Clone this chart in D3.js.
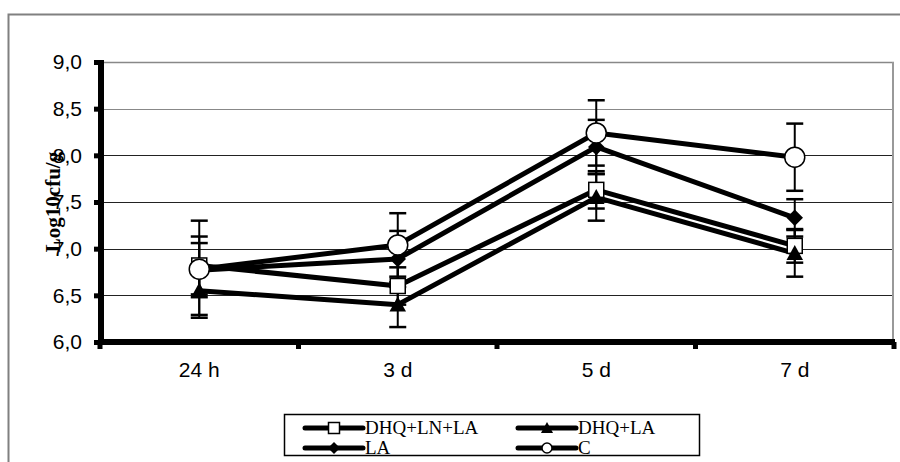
<!DOCTYPE html>
<html>
<head>
<meta charset="utf-8">
<script src="https://cdn.jsdelivr.net/npm/d3@7"></script>
<style>
  body { margin: 0; background: white; }
  svg { display: block; }
</style>
</head>
<body>
<svg id="chart" width="900" height="462"></svg>
<script>
const categories = ["24 h", "3 d", "5 d", "7 d"];
const y_ticks = [6.0, 6.5, 7.0, 7.5, 8.0, 8.5, 9.0];

const dhq_ln_la = [6.82, 6.60, 7.63, 7.03];
const dhq_ln_la_err = [0.31, 0.20, 0.20, 0.18];
const dhq_la = [6.55, 6.40, 7.55, 6.95];
const dhq_la_err = [0.26, 0.24, 0.25, 0.25];
const la = [6.77, 6.89, 8.09, 7.33];
const la_err = [0.29, 0.30, 0.29, 0.20];
const control = [6.78, 7.04, 8.24, 7.98];
const control_err = [0.52, 0.34, 0.35, 0.36];

const series = [
    { "name": "DHQ+LN+LA", "values": dhq_ln_la, "err": dhq_ln_la_err, "marker": "square" },
    { "name": "DHQ+LA", "values": dhq_la, "err": dhq_la_err, "marker": "triangle" },
    { "name": "LA", "values": la, "err": la_err, "marker": "diamond" },
    { "name": "C", "values": control, "err": control_err, "marker": "circle" }
];

const PLOT = { left: 100, right: 894, top: 62, bottom: 342 };
const SANS = "Arial, 'Liberation Sans', sans-serif";
const SERIF = "'Times New Roman', 'Liberation Serif', serif";

var svg = d3.select("svg#chart");

var x = d3.scaleBand().domain(categories).range([PLOT.left, PLOT.right]).padding(0);
var y = d3.scaleLinear().domain([6, 9]).range([PLOT.bottom, PLOT.top]);
var fmt = v => d3.format(".1f")(v).replace(".", ",");

// outer chart frame
svg.append("rect")
    .attr("x", 8.5).attr("y", 14.5)
    .attr("width", 900).attr("height", 460)
    .attr("fill", "white")
    .style("stroke", "#808080")
    .style("stroke-width", 2);

// gridlines
svg.append("g").selectAll("line")
    .data(y_ticks.slice(1))
    .join("line")
    .attr("x1", PLOT.left).attr("x2", PLOT.right)
    .attr("y1", d => Math.round(y(d)) + 0.5).attr("y2", d => Math.round(y(d)) + 0.5)
    .style("stroke", d => d >= 8.5 ? "#888" : "#222")
    .style("stroke-width", d => d == 9 ? 1.5 : 1);

// plot area right border
svg.append("rect")
    .attr("x", PLOT.right - 2).attr("y", PLOT.top)
    .attr("width", 2).attr("height", PLOT.bottom - PLOT.top)
    .attr("fill", "#999");

// y axis: labels from d3 axis, thick line and ticks as rects
var y_axis = svg.append("g")
    .attr("transform", "translate(" + PLOT.left + ",0)")
    .call(d3.axisLeft(y).tickValues(y_ticks).tickFormat(fmt).tickSize(5).tickPadding(13));
y_axis.select(".domain").remove();
y_axis.selectAll(".tick line").remove();
y_axis.selectAll(".tick").append("rect")
    .attr("x", -6).attr("y", -2.5).attr("width", 6).attr("height", 5).attr("fill", "black");
y_axis.selectAll(".tick text")
    .style("font-family", SANS)
    .style("font-size", "21px")
    .attr("fill", "black");
svg.append("rect")
    .attr("x", PLOT.left - 2).attr("y", PLOT.top - 2)
    .attr("width", 6).attr("height", PLOT.bottom - PLOT.top + 4)
    .attr("fill", "black");

// x axis
svg.append("rect")
    .attr("x", PLOT.left - 2).attr("y", PLOT.bottom - 3)
    .attr("width", PLOT.right - PLOT.left + 3).attr("height", 6)
    .attr("fill", "black");

var x_bounds = categories.map(c => x(c)).concat([x.range()[1]]);
svg.append("g").selectAll("rect")
    .data(x_bounds)
    .join("rect")
    .attr("x", d => d - 2.5).attr("y", PLOT.bottom)
    .attr("width", 5).attr("height", 7)
    .attr("fill", "black");

svg.append("g").selectAll("text")
    .data(categories)
    .join("text")
    .attr("x", d => x(d) + x.bandwidth() / 2)
    .attr("y", 377)
    .attr("text-anchor", "middle")
    .style("font-family", SANS)
    .style("font-size", "21px")
    .text(d => d);

// y axis title
svg.append("text")
    .attr("transform", "translate(60,202) rotate(-90)")
    .attr("text-anchor", "middle")
    .style("font-family", SERIF)
    .style("font-weight", "bold")
    .style("font-size", "21px")
    .text("Log10cfu/g");

var cx = i => x(categories[i]) + x.bandwidth() / 2;

function draw_marker(g, type, size) {
    if (type == "square") {
        g.append("rect")
            .attr("x", -size / 2).attr("y", -size / 2)
            .attr("width", size).attr("height", size)
            .attr("fill", "white").style("stroke", "black").style("stroke-width", 1.5);
    } else if (type == "triangle") {
        var h = size;
        g.append("path")
            .attr("d", "M0," + (-h * 0.55) + "L" + (h * 0.55) + "," + (h * 0.45) + "L" + (-h * 0.55) + "," + (h * 0.45) + "Z")
            .attr("fill", "black");
    } else if (type == "diamond") {
        var r = size * 0.55;
        g.append("path")
            .attr("d", "M0," + (-r) + "L" + r + ",0L0," + r + "L" + (-r) + ",0Z")
            .attr("fill", "black");
    } else {
        g.append("circle")
            .attr("r", size * 0.5)
            .attr("fill", "white").style("stroke", "black").style("stroke-width", 1.5);
    }
}

// error bars
series.forEach(function(s) {
    var g = svg.append("g").attr("class", "errbars");
    s.values.forEach(function(v, i) {
        var top = y(v + s.err[i]);
        var bot = y(v - s.err[i]);
        g.append("line")
            .attr("x1", cx(i)).attr("x2", cx(i))
            .attr("y1", top).attr("y2", bot)
            .style("stroke", "black").style("stroke-width", 2);
        [top, bot].forEach(function(yy) {
            g.append("line")
                .attr("x1", cx(i) - 8.5).attr("x2", cx(i) + 8.5)
                .attr("y1", yy).attr("y2", yy)
                .style("stroke", "black").style("stroke-width", 2.5);
        });
    });
});

// lines and markers
var line = d3.line().x((d, i) => cx(i)).y(d => y(d));
series.forEach(function(s) {
    svg.append("path")
        .datum(s.values)
        .attr("d", line)
        .attr("fill", "none")
        .style("stroke", "black")
        .style("stroke-width", 5)
        .style("stroke-linejoin", "round");
});
series.forEach(function(s) {
    s.values.forEach(function(v, i) {
        var g = svg.append("g").attr("transform", "translate(" + cx(i) + "," + y(v) + ")");
        draw_marker(g, s.marker, s.marker == "circle" ? 20 : 15);
    });
});

// legend
var legend = svg.append("g");
legend.append("rect")
    .attr("x", 284.5).attr("y", 414.5)
    .attr("width", 415).attr("height", 41)
    .attr("fill", "white")
    .style("stroke", "black").style("stroke-width", 1.5);

var legend_pos = [[305, 428], [518, 428], [305, 448], [518, 448]];
series.forEach(function(s, i) {
    var p = legend_pos[i];
    var g = legend.append("g").attr("transform", "translate(" + p[0] + "," + p[1] + ")");
    g.append("line")
        .attr("x1", 0).attr("x2", 58)
        .attr("y1", 0).attr("y2", 0)
        .style("stroke", "black").style("stroke-width", 5)
        .style("stroke-linecap", "round");
    var m = g.append("g").attr("transform", "translate(29,0)");
    draw_marker(m, s.marker, s.marker == "circle" ? 10 : 11);
    g.append("text")
        .attr("x", 60).attr("y", 6)
        .style("font-family", SERIF)
        .style("font-size", "19px")
        .text(s.name);
});
</script>
</body>
</html>
